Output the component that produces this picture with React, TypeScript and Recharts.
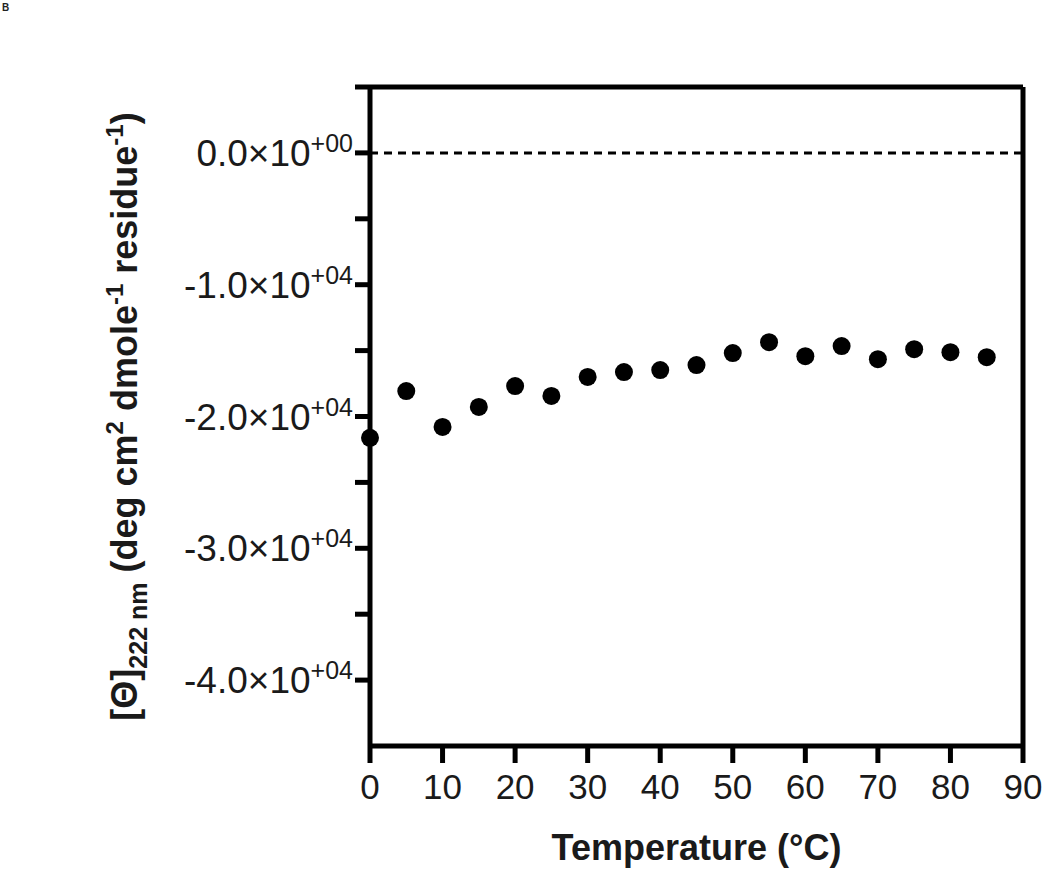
import React from "react";
import {
  ScatterChart,
  Scatter,
  XAxis,
  YAxis,
  ReferenceLine,
  Label,
} from "recharts";

const temperatures = [0, 5, 10, 15, 20, 25, 30, 35, 40, 45, 50, 55, 60, 65, 70, 75, 80, 85];
const ellipticity = [
  -21620, -18070, -20790, -19270, -17690, -18440, -17000, -16630, -16480,
  -16100, -15190, -14360, -15420, -14660, -15650, -14890, -15120, -15500,
];
const xTicks = [0, 10, 20, 30, 40, 50, 60, 70, 80, 90];
const yTicks = [5000, 0, -5000, -10000, -15000, -20000, -25000, -30000, -35000, -40000];

const data = temperatures.map((t, i) => ({ x: t, y: ellipticity[i] }));

const FONT = "'Liberation Sans', Arial, Helvetica, sans-serif";

const XTick = (props: any) => {
  const { x, y, payload } = props;
  return (
    <text x={x} y={y + 34} textAnchor="middle" fontSize={35} fontFamily={FONT} fill="#1a1a1a">
      {payload.value}
    </text>
  );
};

const YTick = (props: any) => {
  const { x, y, payload } = props;
  const v = payload.value as number;
  if (v > 0 || v % 10000 !== 0) return null;
  const mant = (v / 10000).toFixed(1);
  const exp = v === 0 ? "+00" : "+04";
  return (
    <text x={x} y={y + 13} textAnchor="end" fontSize={37} fontFamily={FONT} fill="#1a1a1a">
      {mant + "\u00d710"}
      <tspan fontSize={25} dy={-14}>{exp}</tspan>
    </text>
  );
};

const XLabel = (props: any) => {
  const vb = props.viewBox;
  return (
    <text
      x={vb.x + vb.width / 2}
      y={vb.y + 114}
      textAnchor="middle"
      fontSize={36}
      fontWeight="bold"
      fontFamily={FONT}
      fill="#1a1a1a"
    >
      Temperature (°C)
    </text>
  );
};

const YLabel = (props: any) => {
  const vb = props.viewBox;
  const cx = vb.x + 137;
  const cy = vb.y + vb.height / 2;
  return (
    <text
      x={cx}
      y={cy}
      transform={`rotate(-90, ${cx}, ${cy})`}
      textAnchor="middle"
      fontSize={36}
      fontWeight="bold"
      fontFamily={FONT}
      fill="#1a1a1a"
    >
      [Θ]
      <tspan fontSize={25} dy={10}>222 nm</tspan>
      <tspan dy={-10}> (deg cm</tspan>
      <tspan fontSize={24} dy={-14}>2</tspan>
      <tspan dy={14}> dmole</tspan>
      <tspan fontSize={24} dy={-14}>-1</tspan>
      <tspan dy={14}> residue</tspan>
      <tspan fontSize={24} dy={-14}>-1</tspan>
      <tspan dy={14}>)</tspan>
    </text>
  );
};

export default function App() {
  return (
    <div style={{ position: "absolute", left: 0, top: 0, width: 1050, height: 875, background: "#fff" }}>
      <div
        style={{
          position: "absolute",
          left: 2,
          top: 2,
          fontFamily: FONT,
          fontWeight: "bold",
          fontSize: 10,
          color: "#222",
        }}
      >
        B
      </div>
      <ScatterChart
        width={1050}
        height={875}
        margin={{ top: 87, right: 27, bottom: 0, left: 0 }}
      >
        <XAxis
          type="number"
          dataKey="x"
          domain={[0, 90]}
          ticks={xTicks}
          interval={0}
          height={129}
          axisLine={{ stroke: "#000", strokeWidth: 5 }}
          tickLine={{ stroke: "#000", strokeWidth: 5 }}
          tickSize={17}
          tick={<XTick />}
        >
          <Label content={<XLabel />} />
        </XAxis>
        <YAxis
          type="number"
          dataKey="y"
          domain={[-45000, 5000]}
          ticks={yTicks}
          interval={0}
          width={370}
          axisLine={{ stroke: "#000", strokeWidth: 5 }}
          tickLine={{ stroke: "#000", strokeWidth: 5 }}
          tickSize={15}
          tick={<YTick />}
        >
          <Label content={<YLabel />} />
        </YAxis>
        <ReferenceLine y={5000} stroke="#000" strokeWidth={5} />
        <ReferenceLine x={90} stroke="#000" strokeWidth={5} />
        <ReferenceLine y={0} stroke="#000" strokeWidth={3} strokeDasharray="8 6" />
        <Scatter
          data={data}
          fill="#000"
          isAnimationActive={false}
          shape={(p: any) => <circle cx={p.cx} cy={p.cy} r={9} fill="#000" />}
        />
      </ScatterChart>
    </div>
  );
}
